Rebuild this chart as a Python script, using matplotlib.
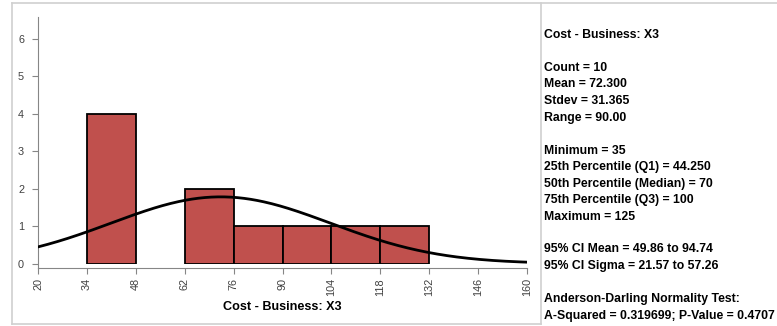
import numpy as np
import matplotlib.pyplot as plt
from matplotlib.lines import Line2D

# histogram data
bin_edges = [34, 48, 62, 76, 90, 104, 118, 132]
counts = [4, 0, 2, 1, 1, 1, 1]
x_ticks = [20, 34, 48, 62, 76, 90, 104, 118, 132, 146, 160]
y_ticks = [0, 1, 2, 3, 4, 5, 6]
n = 10
mean = 72.3
stdev = 31.365
bin_width = 14

stats_lines = [
    "Cost - Business: X3",
    "",
    "Count = 10",
    "Mean = 72.300",
    "Stdev = 31.365",
    "Range = 90.00",
    "",
    "Minimum = 35",
    "25th Percentile (Q1) = 44.250",
    "50th Percentile (Median) = 70",
    "75th Percentile (Q3) = 100",
    "Maximum = 125",
    "",
    "95% CI Mean = 49.86 to 94.74",
    "95% CI Sigma = 21.57 to 57.26",
    "",
    "Anderson-Darling Normality Test:",
    "A-Squared = 0.319699; P-Value = 0.4707",
]

plt.rcParams['font.family'] = ['Liberation Sans', 'DejaVu Sans']

W, H = 777, 326
fig = plt.figure(figsize=(W / 100, H / 100), dpi=100)
ax = fig.add_axes([38 / W, (H - 263.5) / H, (527 - 38) / W, (263.5 - 16.5) / H])

# spines first: set_position resets the tick objects
for s in ['top', 'right']:
    ax.spines[s].set_visible(False)
ax.spines['bottom'].set_position(('outward', 3))
for s in ['left', 'bottom']:
    ax.spines[s].set_color('#868686')
    ax.spines[s].set_linewidth(0.8)

lefts = [e for e, c in zip(bin_edges[:-1], counts) if c > 0]
heights = [c for c in counts if c > 0]
ax.bar(lefts, heights, width=bin_width, align='edge',
       color='#C0504D', edgecolor='black', linewidth=1.3, zorder=2)

xs = np.linspace(20, 160, 300)
pdf = np.exp(-0.5 * ((xs - mean) / stdev) ** 2) / (stdev * np.sqrt(2 * np.pi))
ax.plot(xs, pdf * n * bin_width, color='black', lw=2, zorder=3)

ax.set_xlim(20, 160)
ax.set_ylim(0, 6.6)
ax.spines['left'].set_bounds(-0.115, 6.6)
ax.set_xticks(x_ticks)
ax.set_xticklabels([str(t) for t in x_ticks], rotation=90)
ax.set_yticks(y_ticks)
ax.tick_params(axis='both', colors='#868686', labelcolor='#404040',
               labelsize=7.8, length=4, width=0.8)
ax.tick_params(axis='y', pad=6)
ax.set_xlabel("Cost - Business: X3", fontsize=9.1, fontweight='bold', labelpad=3)

# outer frame and panel separator
frame = dict(color='#D0D0D0', lw=1.2, transform=fig.transFigure)
fig.add_artist(Line2D([12 / W, 12 / W], [1 - 3 / H, 1 - 324 / H], **frame))
fig.add_artist(Line2D([12 / W, 1], [1 - 3 / H, 1 - 3 / H], **frame))
fig.add_artist(Line2D([12 / W, 541 / W], [1 - 324 / H, 1 - 324 / H], **frame))
fig.add_artist(Line2D([541 / W, 541 / W], [1 - 3 / H, 1 - 324 / H], **frame))

y0 = 35
for i, line in enumerate(stats_lines):
    if line:
        fig.text(544 / W, 1 - (y0 + i * 16.5) / H, line, fontsize=8.85,
                 fontweight='bold', va='center', ha='left', color='black')

fig.savefig('out.png', dpi=100)
